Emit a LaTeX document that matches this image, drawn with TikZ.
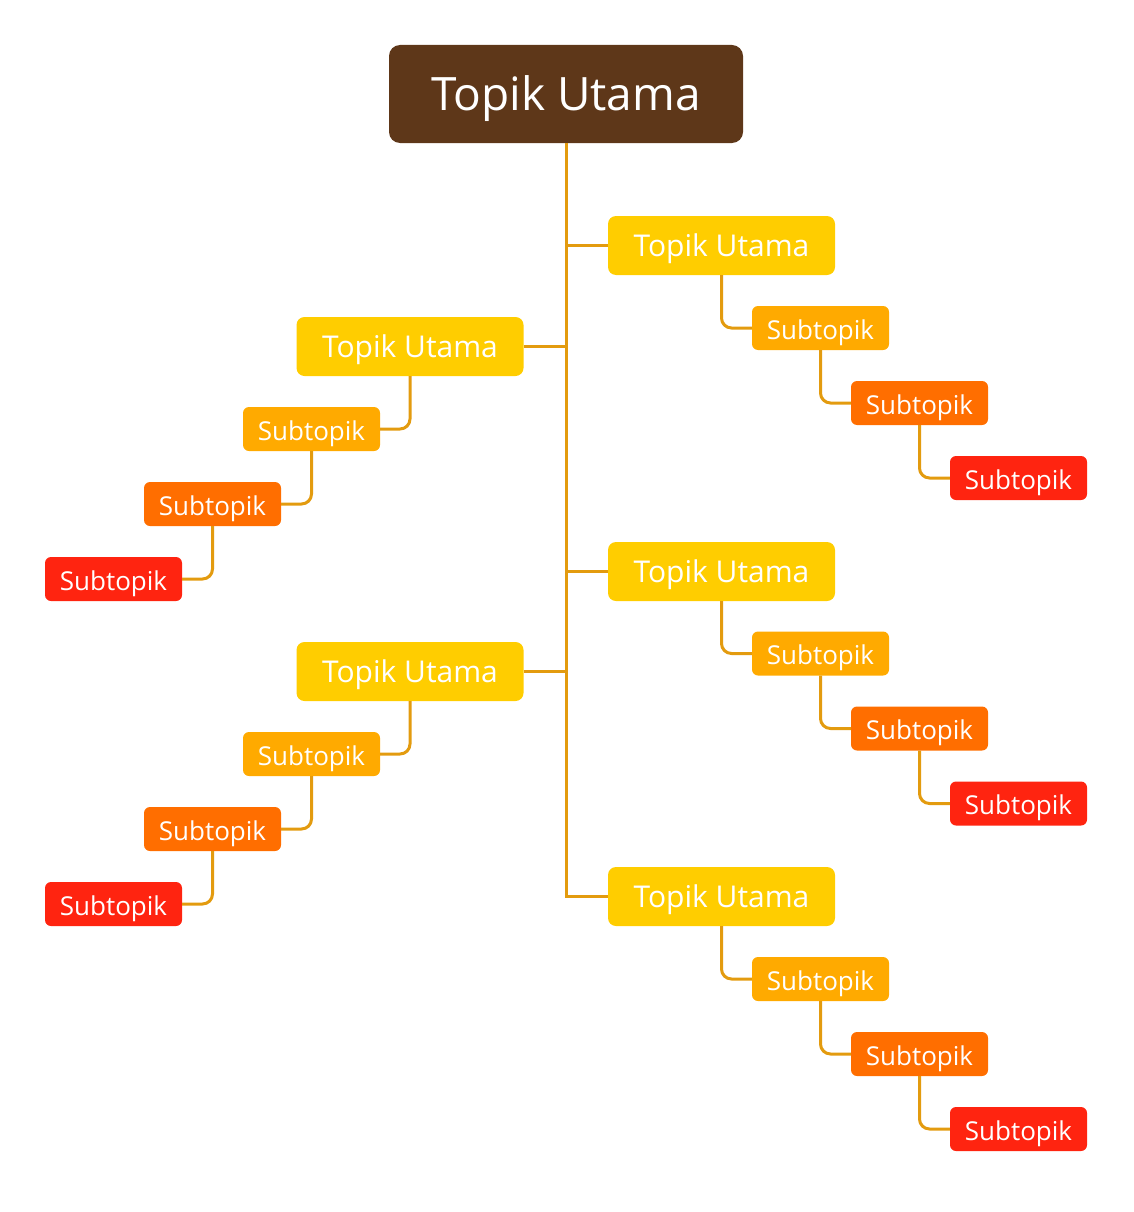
\documentclass[tikz,border=0pt]{standalone}
\usepackage{fontspec}
\setmainfont{Open Sans}
\definecolor{rootc}{HTML}{5E3719}
\definecolor{topc}{HTML}{FFCD00}
\definecolor{subA}{HTML}{FFAA00}
\definecolor{subB}{HTML}{FF6E00}
\definecolor{subC}{HTML}{FF2410}
\definecolor{linec}{HTML}{E39B0F}
\begin{document}
\begin{tikzpicture}[x=1pt,y=-1pt,
  rootbox/.style={fill=rootc,text=white,rounded corners=11pt,minimum width=354pt,minimum height=98pt,inner sep=0pt,text height=44pt,text depth=11pt,font=\fontsize{46}{50}\selectfont},
  topbox/.style={fill=topc,text=white,rounded corners=8pt,minimum width=227pt,minimum height=59pt,inner sep=0pt,text height=30pt,text depth=7.5pt,font=\fontsize{30}{34}\selectfont},
  subbox/.style={text=white,rounded corners=6pt,minimum width=137pt,minimum height=44pt,inner sep=0pt,text height=29pt,text depth=6.5pt,font=\fontsize{26}{30}\selectfont},
  sa/.style={subbox,fill=subA},
  sb/.style={subbox,fill=subB},
  sc/.style={subbox,fill=subC},
  conn/.style={draw=linec,line width=3pt,rounded corners=10pt},
  trunk/.style={draw=linec,line width=3pt}
]
\useasboundingbox (0,0) rectangle (1133,1212);
\node[rootbox] (root) at (566,94) {Topik Utama};
% topics
\node[topbox] (r1) at (721.5,245.5) {Topik Utama};
\node[topbox] (l1) at (410,346.5) {Topik Utama};
\node[topbox] (r2) at (721.5,571.5) {Topik Utama};
\node[topbox] (l2) at (410,671.5) {Topik Utama};
\node[topbox] (r3) at (721.5,896.5) {Topik Utama};
% right subtopics
\node[sa] (r1a) at (820.5,328) {Subtopik};
\node[sb] (r1b) at (919.5,403) {Subtopik};
\node[sc] (r1c) at (1018.5,478) {Subtopik};
\node[sa] (r2a) at (820.5,653.5) {Subtopik};
\node[sb] (r2b) at (919.5,728.5) {Subtopik};
\node[sc] (r2c) at (1018.5,803.5) {Subtopik};
\node[sa] (r3a) at (820.5,979) {Subtopik};
\node[sb] (r3b) at (919.5,1054) {Subtopik};
\node[sc] (r3c) at (1018.5,1129) {Subtopik};
% left subtopics
\node[sa] (l1a) at (311.5,429) {Subtopik};
\node[sb] (l1b) at (212.5,504) {Subtopik};
\node[sc] (l1c) at (113.5,579) {Subtopik};
\node[sa] (l2a) at (311.5,754) {Subtopik};
\node[sb] (l2b) at (212.5,829) {Subtopik};
\node[sc] (l2c) at (113.5,904) {Subtopik};
% trunk
\draw[trunk] (root.south) |- (r3.west);
\draw[trunk] (r1.west) -- (r1.west -| root.south);
\draw[trunk] (r2.west) -- (r2.west -| root.south);
\draw[trunk] (l1.east) -- (l1.east -| root.south);
\draw[trunk] (l2.east) -- (l2.east -| root.south);
% branches
\draw[conn] (r1.south) |- (r1a.west);
\draw[conn] (r1a.south) |- (r1b.west);
\draw[conn] (r1b.south) |- (r1c.west);
\draw[conn] (r2.south) |- (r2a.west);
\draw[conn] (r2a.south) |- (r2b.west);
\draw[conn] (r2b.south) |- (r2c.west);
\draw[conn] (r3.south) |- (r3a.west);
\draw[conn] (r3a.south) |- (r3b.west);
\draw[conn] (r3b.south) |- (r3c.west);
\draw[conn] (l1.south) |- (l1a.east);
\draw[conn] (l1a.south) |- (l1b.east);
\draw[conn] (l1b.south) |- (l1c.east);
\draw[conn] (l2.south) |- (l2a.east);
\draw[conn] (l2a.south) |- (l2b.east);
\draw[conn] (l2b.south) |- (l2c.east);
\end{tikzpicture}
\end{document}
